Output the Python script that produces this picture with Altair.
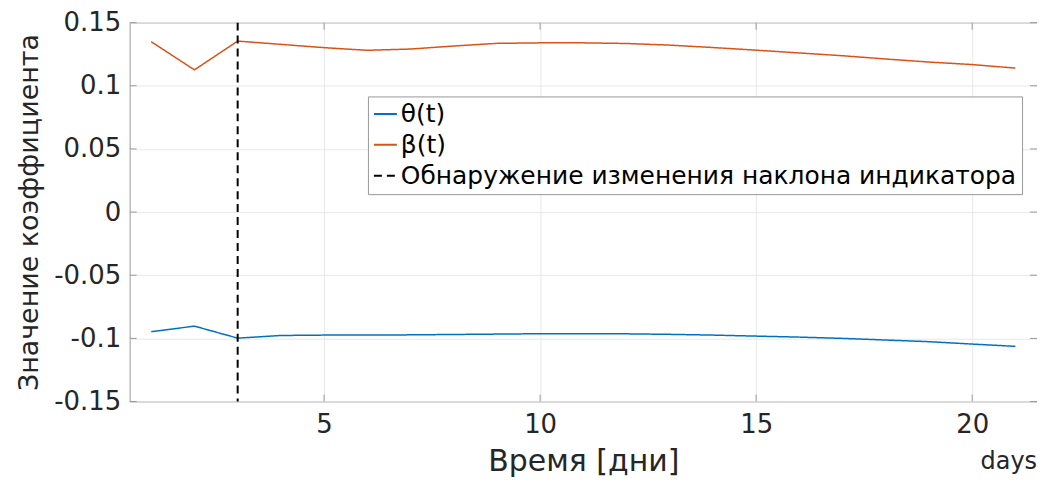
import altair as alt
import pandas as pd

# ---- data ----
days = list(range(1, 22))
theta = [-0.0947, -0.0903, -0.0998, -0.0977, -0.0974, -0.0974, -0.0972, -0.0969,
         -0.0966, -0.0963, -0.0963, -0.0964, -0.0968, -0.0974, -0.0982, -0.0990,
         -0.1000, -0.1013, -0.1026, -0.1045, -0.1063]
beta = [0.1349, 0.1126, 0.1354, 0.1328, 0.1302, 0.1281, 0.1291, 0.1315, 0.1336,
        0.1340, 0.1340, 0.1335, 0.1322, 0.1303, 0.1282, 0.1260, 0.1238, 0.1212,
        0.1188, 0.1168, 0.1140]
detect_day = [3]
series_names = ["θ(t)", "β(t)", "Обнаружение изменения наклона индикатора"]
series_colors = ["#0072BD", "#D95319", "#000000"]
series_dash = [[1, 0], [1, 0], [8, 5]]
x_ticks = [5, 10, 15, 20]
y_ticks = [-0.15, -0.1, -0.05, 0, 0.05, 0.1, 0.15]
extra_label = ["days"]

FONT = "DejaVu Sans"
TXT = "#262626"
BOX = "#999999"

df = pd.DataFrame({
    "day": days * 2,
    "value": theta + beta,
    "series": [series_names[0]] * len(days) + [series_names[1]] * len(days),
})
det = pd.DataFrame({"day": detect_day, "series": [series_names[2]] * len(detect_day)})
xt = pd.DataFrame({"day": x_ticks})
yt = pd.DataFrame({"value": y_ticks})
lab = pd.DataFrame({"label": extra_label})

xscale = alt.Scale(domain=[0.5, 21.5], nice=False, zero=False)
yscale = alt.Scale(domain=[-0.15, 0.15], nice=False, zero=False)

legend = alt.Legend(
    title=None, orient="none", legendX=239, legendY=74,
    strokeColor=BOX, fillColor="white", padding=5, rowPadding=5,
    symbolType="stroke", symbolStrokeWidth=2, symbolSize=529,
    labelFont=FONT, labelFontSize=25, labelColor="#000000", labelOffset=3,
    labelLimit=1000,
)

color = alt.Color("series:N", scale=alt.Scale(domain=series_names, range=series_colors),
                  legend=legend)
dash = alt.StrokeDash("series:N", scale=alt.Scale(domain=series_names, range=series_dash),
                      legend=legend)

xaxis = alt.Axis(values=x_ticks, title="Время [дни]", grid=True, ticks=False, domain=False,
                 labelPadding=10, titleFontSize=30, titleBaseline="alphabetic", titleY=69)
yaxis = alt.Axis(values=y_ticks, title="Значение коэффициента", grid=True, ticks=False,
                 domain=False, labelPadding=9, labelExpr="datum.value + ''",
                 titleFontSize=27, titleBaseline="alphabetic", titleX=-92, titleAngle=-90)

lines = alt.Chart(df).mark_line(strokeWidth=1.5).encode(
    x=alt.X("day:Q", scale=xscale, axis=xaxis),
    y=alt.Y("value:Q", scale=yscale, axis=yaxis),
    color=color,
    strokeDash=dash,
    detail="series:N",
)

rule = alt.Chart(det).mark_rule(strokeWidth=2).encode(
    x=alt.X("day:Q", scale=xscale),
    color=color,
    strokeDash=dash,
)

# inner tick marks (MATLAB style) on all four sides
xt_bottom = alt.Chart(xt).mark_rule(color=BOX, strokeWidth=1).encode(
    x=alt.X("day:Q", scale=xscale), y=alt.value(380), y2=alt.value(373))
xt_top = alt.Chart(xt).mark_rule(color=BOX, strokeWidth=1).encode(
    x=alt.X("day:Q", scale=xscale), y=alt.value(0), y2=alt.value(7))
yt_left = alt.Chart(yt).mark_rule(color=BOX, strokeWidth=1).encode(
    y=alt.Y("value:Q", scale=yscale), x=alt.value(0), x2=alt.value(7))
yt_right = alt.Chart(yt).mark_rule(color=BOX, strokeWidth=1).encode(
    y=alt.Y("value:Q", scale=yscale), x=alt.value(910), x2=alt.value(903))

days_text = alt.Chart(lab).mark_text(
    align="right", baseline="alphabetic", font=FONT, fontSize=24, color=TXT
).encode(text="label:N", x=alt.value(910), y=alt.value(448))

chart = alt.layer(
    xt_bottom, xt_top, yt_left, yt_right, lines, rule, days_text
).properties(
    width=910, height=380,
    autosize=alt.AutoSizeParams(type="none"),
    padding={"left": 122, "top": 14, "right": 0, "bottom": 77},
).configure(
    font=FONT,
).configure_view(
    stroke=BOX, strokeWidth=1,
).configure_axis(
    labelFont=FONT, titleFont=FONT, labelFontSize=26, labelColor=TXT,
    titleColor=TXT, titleFontWeight="normal", gridColor="#e8e8e8", gridWidth=1,
)

chart.save("out.html", embed_options={"renderer": "svg", "actions": False})
